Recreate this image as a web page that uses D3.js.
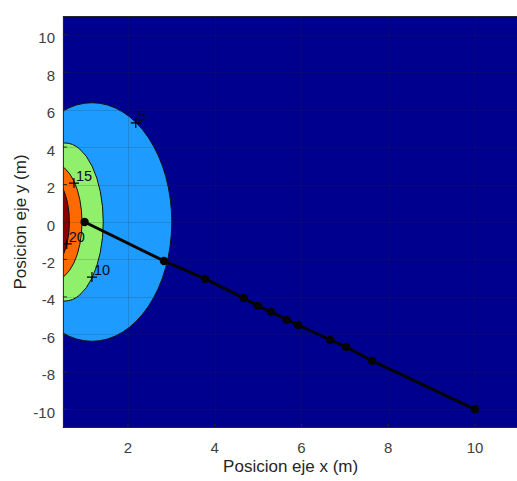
<!DOCTYPE html>
<html>
<head>
<meta charset="utf-8">
<script src="https://cdn.jsdelivr.net/npm/d3@7"></script>
<style>
  html, body { margin: 0; padding: 0; background: #ffffff; }
  svg { display: block; font-family: Arial, "Liberation Sans", Helvetica, sans-serif; }
</style>
</head>
<body>
<svg id="chart" width="517" height="481"></svg>
<script>
// Contour levels of the field (outermost first) and the ellipse that bounds each band
const levels = [5, 10, 15, 20];
const bandCx = [1.17, 0.55, 0.30, 0.20];
const bandRx = [1.84, 0.88, 0.64, 0.45];
const bandRy = [6.37, 4.22, 3.10, 2.40];

// Contour label anchors ("+" marks) for each level
const labelX = [2.18, 1.17, 0.755, 0.59];
const labelY = [5.29, -2.94, 2.08, -1.17];

// Trajectory points
const pathX = [1.00, 2.83, 3.78, 4.67, 4.99, 5.30, 5.66, 5.92, 6.66, 7.03, 7.63, 10.00];
const pathY = [0.00, -2.08, -3.04, -4.06, -4.48, -4.80, -5.23, -5.50, -6.30, -6.67, -7.42, -10.00];

// Tick values
const xTicks = [2, 4, 6, 8, 10];
const yTicks = [-10, -8, -6, -4, -2, 0, 2, 4, 6, 8, 10];

// Band fill colours (jet-like), background first
const bgColor = "#00008f";
const bandColors = ["#1e9bff", "#90f06c", "#ff6a00", "#8a0000"];

const svg = d3.select("#chart");
const x = d3.scaleLinear().domain([0.5, 11]).range([62.9, 518.4]);
const y = d3.scaleLinear().domain([-11, 11]).range([428, 16]);

const pL = x(0.5), pR = x(11), pT = y(11), pB = y(-11);

svg.append("defs").append("clipPath").attr("id", "plotClip")
  .append("rect").attr("x", pL).attr("y", pT)
  .attr("width", pR - pL).attr("height", pB - pT);

const plot = svg.append("g").attr("clip-path", "url(#plotClip)");

// background (values below the lowest level)
plot.append("rect")
  .attr("x", pL).attr("y", pT)
  .attr("width", pR - pL).attr("height", pB - pT)
  .attr("fill", bgColor);

// filled contour bands
plot.selectAll("ellipse.band")
  .data(levels)
  .join("ellipse")
  .attr("class", "band")
  .attr("cx", (d, i) => x(bandCx[i]))
  .attr("cy", y(0))
  .attr("rx", (d, i) => x(bandCx[i] + bandRx[i]) - x(bandCx[i]))
  .attr("ry", (d, i) => y(0) - y(bandRy[i]))
  .attr("fill", (d, i) => bandColors[i])
  .attr("stroke", "#111111")
  .attr("stroke-width", 1);

// grid
const grid = plot.append("g").attr("stroke", "#262626").attr("stroke-opacity", 0.18).attr("stroke-width", 1);
grid.selectAll("line.gx").data(xTicks).join("line")
  .attr("x1", d => Math.round(x(d)) + 0.5).attr("x2", d => Math.round(x(d)) + 0.5)
  .attr("y1", pT).attr("y2", pB);
grid.selectAll("line.gy").data(yTicks).join("line")
  .attr("y1", d => Math.round(y(d)) + 0.5).attr("y2", d => Math.round(y(d)) + 0.5)
  .attr("x1", pL).attr("x2", pR);

// contour labels with "+" marks
const labs = plot.append("g");
levels.forEach((lv, i) => {
  const px = x(labelX[i]), py = y(labelY[i]);
  labs.append("path")
    .attr("d", `M${px - 5},${py}H${px + 5}M${px},${py - 5}V${py + 5}`)
    .attr("stroke", "#000000").attr("stroke-width", 1.2);
  labs.append("text")
    .attr("x", px + 2).attr("y", py - 2)
    .attr("font-size", 14.5)
    .attr("fill", "#0a0a2a")
    .text(lv);
});

// trajectory
const pts = pathX.map((d, i) => [d, pathY[i]]);
plot.append("path")
  .attr("d", d3.line().x(d => x(d[0])).y(d => y(d[1]))(pts))
  .attr("fill", "none").attr("stroke", "#050505").attr("stroke-width", 3);
plot.selectAll("circle.pt").data(pts).join("circle")
  .attr("class", "pt")
  .attr("cx", d => x(d[0])).attr("cy", d => y(d[1]))
  .attr("r", 4.2).attr("fill", "#050505");

// axes box and ticks
const axisColor = "#262626";
svg.append("line").attr("x1", pL).attr("x2", pR).attr("y1", pT + 0.5).attr("y2", pT + 0.5)
  .attr("stroke", axisColor).attr("stroke-width", 1);
svg.append("line").attr("x1", pL).attr("x2", pR).attr("y1", pB - 0.5).attr("y2", pB - 0.5)
  .attr("stroke", axisColor).attr("stroke-width", 1);
svg.append("line").attr("x1", pL + 0.5).attr("x2", pL + 0.5).attr("y1", pT).attr("y2", pB)
  .attr("stroke", axisColor).attr("stroke-width", 1);

const ticks = svg.append("g").attr("stroke", axisColor).attr("stroke-width", 1);
ticks.selectAll("line.tx").data(xTicks).join("line")
  .attr("x1", d => x(d)).attr("x2", d => x(d))
  .attr("y1", pB).attr("y2", pB - 4);
ticks.selectAll("line.ty").data(yTicks).join("line")
  .attr("y1", d => y(d)).attr("y2", d => y(d))
  .attr("x1", pL).attr("x2", pL + 4);

// tick labels
svg.append("g").selectAll("text").data(xTicks).join("text")
  .attr("x", d => x(d)).attr("y", 452.5)
  .attr("text-anchor", "middle").attr("font-size", 15).attr("fill", "#404040")
  .text(d => d);
svg.append("g").selectAll("text").data(yTicks).join("text")
  .attr("x", 55).attr("y", d => y(d) + 8.5)
  .attr("text-anchor", "end").attr("font-size", 15).attr("fill", "#404040")
  .text(d => d);

// axis titles
svg.append("text")
  .attr("x", (pL + pR) / 2).attr("y", 472)
  .attr("text-anchor", "middle").attr("font-size", 17).attr("fill", "#262626")
  .text("Posicion eje x (m)");
svg.append("text")
  .attr("transform", `translate(26,${(pT + pB) / 2}) rotate(-90)`)
  .attr("text-anchor", "middle").attr("font-size", 17).attr("fill", "#262626")
  .text("Posicion eje y (m)");
</script>
</body>
</html>
